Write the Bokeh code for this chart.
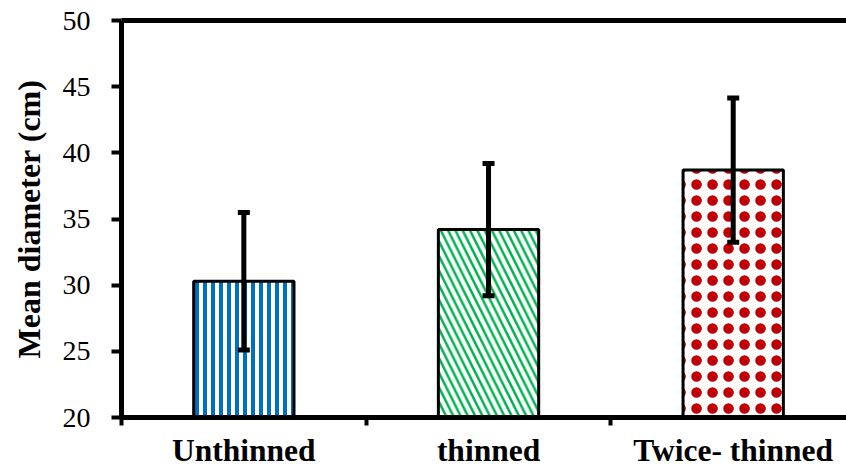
from bokeh.plotting import figure
from bokeh.models import (Range1d, FixedTicker, LinearAxis, ColumnDataSource,
                          Whisker, TeeHead)
from bokeh.embed import file_html
from bokeh.resources import INLINE
import numpy as np

# ---- data ----
categories = ["Unthinned", "thinned", "Twice- thinned"]
mean_diameter = [30.3, 34.2, 38.7]
error = [5.2, 5.0, 5.45]
y_ticks = [20, 25, 30, 35, 40, 45, 50]

# ---- styles ----
hatch_patterns = ["vertical_line", "left_diagonal_line", "dot"]
hatch_colors = ["#0070C0", "#00B050", "#C00000"]
hatch_scales = [8, 14.6, 16]
hatch_weights = [4, 2.5, 6]
# second hatch layer (None = no extra layer)
overlay_patterns = [None, None, "ring"]
overlay_weights = [0, 0, 2.5]

FONT = "Liberation Serif"

x_pos = np.arange(len(categories)) + 0.5

p = figure(width=846, height=470, output_backend="svg", toolbar_location=None,
           x_range=Range1d(0, 2.963), y_range=Range1d(20, 50),
           min_border_left=121, min_border_right=0, min_border_top=20,
           min_border_bottom=52)
p.outline_line_color = None
p.xgrid.visible = False
p.ygrid.visible = False
p.background_fill_color = "white"
p.border_fill_color = "white"

for i in range(len(categories)):
    p.vbar(x=[x_pos[i]], top=[mean_diameter[i]], bottom=20, width=0.41,
           fill_color="white", line_color=None,
           hatch_pattern=hatch_patterns[i], hatch_color=hatch_colors[i],
           hatch_scale=hatch_scales[i], hatch_weight=hatch_weights[i])
    if overlay_patterns[i]:
        p.vbar(x=[x_pos[i]], top=[mean_diameter[i]], bottom=20, width=0.41,
               fill_alpha=0, line_color=None,
               hatch_pattern=overlay_patterns[i], hatch_color=hatch_colors[i],
               hatch_scale=hatch_scales[i], hatch_weight=overlay_weights[i])
    p.vbar(x=[x_pos[i]], top=[mean_diameter[i]], bottom=20, width=0.41,
           fill_alpha=0, line_color="black", line_width=3)

lower = [m - e for m, e in zip(mean_diameter, error)]
upper = [m + e for m, e in zip(mean_diameter, error)]
src = ColumnDataSource(dict(base=list(x_pos), lower=lower, upper=upper))
w = Whisker(base="base", lower="lower", upper="upper", source=src,
            line_color="black", line_width=5, level="overlay",
            upper_head=TeeHead(size=12, line_width=5, line_color="black"),
            lower_head=TeeHead(size=12, line_width=5, line_color="black"))
p.add_layout(w)

# y axis
ya = p.yaxis[0]
ya.ticker = FixedTicker(ticks=y_ticks, minor_ticks=[])
ya.axis_line_width = 5
ya.major_tick_line_width = 4
ya.major_tick_out = 10
ya.major_tick_in = 0
ya.minor_tick_line_color = None
ya.major_label_text_font = FONT
ya.major_label_text_font_size = "28px"
ya.major_label_text_color = "black"
ya.major_label_standoff = 21
ya.axis_label = "Mean diameter (cm)"
ya.axis_label_text_font = FONT
ya.axis_label_text_font_size = "32px"
ya.axis_label_text_font_style = "bold"
ya.axis_label_text_color = "black"
ya.axis_label_standoff = 13

# x axis
xa = p.xaxis[0]
xa.ticker = FixedTicker(ticks=list(x_pos), minor_ticks=[0, 1, 2, 3])
xa.major_label_overrides = {float(x): c for x, c in zip(x_pos, categories)}
xa.axis_line_width = 5
xa.major_tick_line_color = None
xa.major_tick_out = 0
xa.major_tick_in = 0
xa.minor_tick_line_width = 4
xa.minor_tick_out = 8
xa.minor_tick_in = 0
xa.major_label_text_font = FONT
xa.major_label_text_font_size = "31.5px"
xa.major_label_text_font_style = "bold"
xa.major_label_text_color = "black"
xa.major_label_standoff = 7

# top frame line
top = LinearAxis(ticker=FixedTicker(ticks=[], minor_ticks=[]), axis_line_width=5,
                 major_label_text_font_size="0px", major_tick_out=0, major_tick_in=0,
                 minor_tick_out=0, minor_tick_in=0, major_label_standoff=0)
p.add_layout(top, "above")

open("out.html", "w").write(file_html(p, INLINE))
